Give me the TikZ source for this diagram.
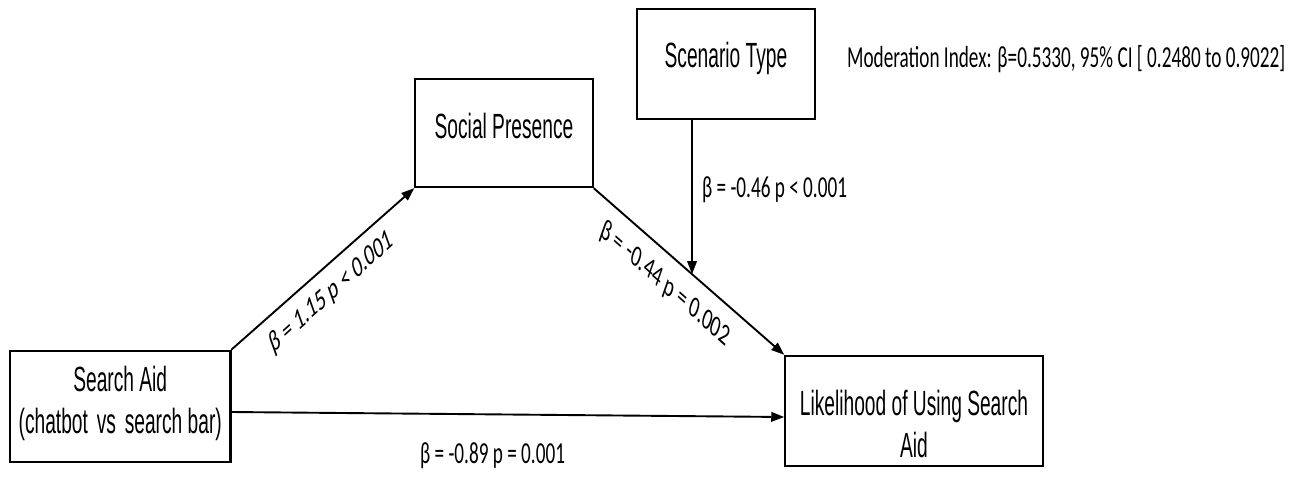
\documentclass[tikz,border=0pt]{standalone}
\usepackage{fontspec}
\newfontfamily\boxfont{Liberation Sans}[FakeStretch=0.87]
\newfontfamily\labfont{Carlito}
\usetikzlibrary{arrows.meta}
\begin{document}
\begin{tikzpicture}[x=1pt,y=-1pt,
  conn/.style={line width=1.9pt, -{Triangle[length=13pt,width=9.5pt]}}]
\useasboundingbox (0,0) rectangle (1302,479);
\begin{scope}[x=1.5873pt, xscale=0.63, transform shape,
  box/.style={draw, line width=2.4pt, inner sep=0pt, align=center,
    font=\boxfont\fontsize{35}{41.5}\selectfont},
  lab/.style={inner sep=0pt, font=\labfont\fontsize{30.5}{36}\selectfont}]
\node[box, minimum width=350pt, text height=82pt, text depth=29pt] (sa) at (120.25,406.5)
  {Search Aid\\(chatbot\hspace{0.4em}vs\hspace{0.4em}search bar)};
\node[box, minimum width=282.5pt, text height=59pt, text depth=49pt] (sp) at (504,133) {Social Presence};
\node[box, minimum width=282.5pt, text height=58pt, text depth=52pt] (sc) at (726,64) {Scenario Type};
\node[box, minimum width=409.5pt, text height=101pt, text depth=9pt] (lik) at (914,411)
  {Likelihood of Using Search\\Aid};
\node[lab, rotate=29.46] (l1) at (331.5,292.5) {β = 1.15 p < 0.001};
\node[lab, rotate=-29.0] (l2) at (665,284) {β = -0.44 p = 0.002};
\node[lab, anchor=base west] (l3) at (702,197) {β = -0.46 p < 0.001};
\node[lab, anchor=base west] (l4) at (420,463) {β = -0.89 p = 0.001};
\node[lab, anchor=base west] (mod) at (847,67) {Moderation Index: β=0.5330, 95\% CI [ 0.2480 to 0.9022]};
\end{scope}
\draw[conn] (sa.north east) -- (sp.south west);
\draw[conn] (sp.south east) -- coordinate[pos=0.516] (m) (lik.north west);
\draw[conn] (sc.south -| m) -- (m);
\draw[conn] ([yshift=-5.5pt]sa.east) -- ([yshift=-6pt]lik.west);
\end{tikzpicture}
\end{document}
